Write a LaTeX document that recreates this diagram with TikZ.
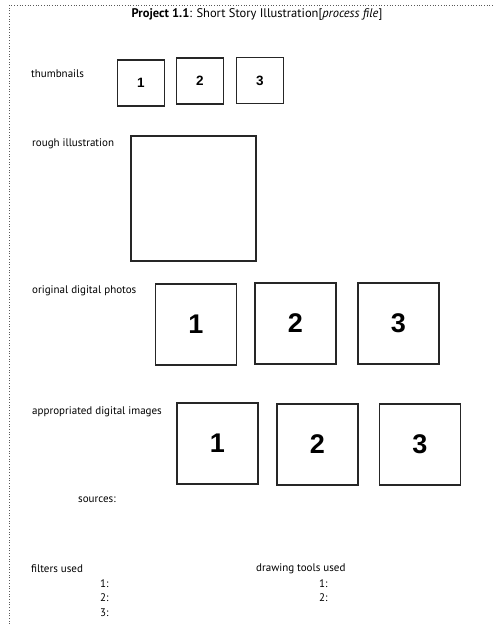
\documentclass[tikz,border=0pt]{standalone}
\usepackage{fontspec}
\setmainfont{PT Sans}
\newfontfamily\numfont{Liberation Sans}
\begin{document}
\begin{tikzpicture}[x=1pt,y=-1pt,
  lbl/.style={anchor=base west,inner sep=0pt,font=\fontsize{11}{12}\selectfont},
  frame/.style={draw=black!65,line width=.7pt,dotted},
  thumb/.style={draw=black!85,line width=1.4pt,minimum width=47pt,minimum height=46pt,inner sep=0pt,font=\numfont\bfseries\fontsize{13.5}{13.5}\selectfont},
  pic/.style={draw=black!85,line width=1.4pt,minimum width=81pt,minimum height=81pt,inner sep=0pt,font=\numfont\bfseries\fontsize{27}{27}\selectfont}]
\useasboundingbox (0,0) rectangle (499,624);
\draw[frame](9.5,624)--(9.5,5)--(494,5);

\node (title) at (257,17) [anchor=base,font=\fontsize{12.5}{13}\selectfont,inner sep=0pt]{\textbf{Project 1.1}: Short Story Illustration[\textit{process file}]};

\node (thumbnails) at (31,77)[lbl]{thumbnails};
\foreach \i/\x/\y in {1/141/83,2/200/81,3/260/80.5}
{
    \node[thumb] (thumb\i) at (\x,\y) {\i};
}

\node (rough) at (32,146)[lbl]{rough illustration};
\node[draw=black!85,line width=1.4pt,minimum width=125pt,minimum height=125pt] (roughbox) at (193.5,198.5) {};

\node (photos) at (32,293)[lbl]{original digital photos};
\foreach \i/\x/\y in {1/196/324.5,2/295.5/323.5,3/398.5/323.5}
{
    \node[pic] (photo\i) at (\x,\y) {\i};
}

\node (images) at (32,414)[lbl]{appropriated digital images};
\foreach \i/\x/\y in {1/217.5/443.5,2/317.5/444.5,3/420/444.5}
{
    \node[pic] (image\i) at (\x,\y) {\i};
}
\node (sources) at (78,502)[lbl]{sources:};

\node (filters) at (31,572)[lbl]{filters used};
\foreach \i/\y in {1/587,2/601,3/616}
{
    \node (filter\i) at (100,\y)[lbl]{\i:};
}
\node (tools) at (256,571)[lbl]{drawing tools used};
\foreach \i/\y in {1/587,2/601}
{
    \node (tool\i) at (319,\y)[lbl]{\i:};
}
\end{tikzpicture}
\end{document}
